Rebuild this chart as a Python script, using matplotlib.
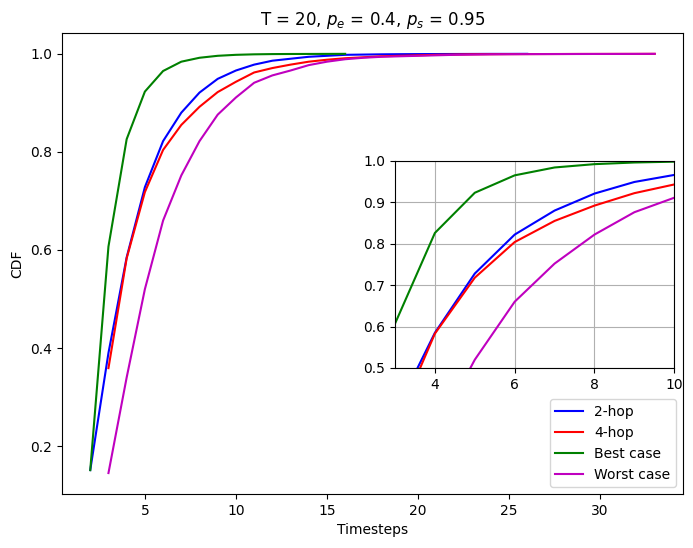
import numpy as np
import matplotlib
matplotlib.use('Agg')
import matplotlib.pyplot as plt

# CDF values
t_2hop = list(range(2, 27))
cdf_2hop = [0.151, 0.39, 0.585, 0.728, 0.822, 0.880, 0.921, 0.949, 0.966,
            0.978, 0.986, 0.990, 0.994, 0.996, 0.998, 0.9985, 0.999, 0.9993,
            0.9995, 0.9996, 0.9997, 0.9998, 0.9999, 0.9999, 1.0]

t_4hop = list(range(3, 34))
cdf_4hop = [0.359, 0.583, 0.718, 0.804, 0.855, 0.892, 0.922, 0.943, 0.962,
            0.971, 0.978, 0.984, 0.988, 0.991, 0.993, 0.995, 0.996, 0.997,
            0.998, 0.9985, 0.999, 0.9992, 0.9994, 0.9995, 0.9996, 0.9997,
            0.9998, 0.9998, 0.9999, 0.9999, 1.0]

t_best = list(range(2, 17))
cdf_best = [0.151, 0.607, 0.826, 0.923, 0.965, 0.984, 0.992, 0.996, 0.998,
            0.999, 0.9995, 0.9997, 0.9998, 0.9999, 1.0]

t_worst = list(range(3, 34))
cdf_worst = [0.145, 0.34, 0.52, 0.66, 0.752, 0.822, 0.876, 0.911, 0.941,
             0.956, 0.966, 0.977, 0.984, 0.989, 0.992, 0.994, 0.995, 0.996,
             0.997, 0.998, 0.9985, 0.999, 0.9992, 0.9994, 0.9995, 0.9996,
             0.9997, 0.9998, 0.9998, 0.9999, 1.0]

fig = plt.figure(figsize=(6.93, 5.48), dpi=100)
ax = fig.add_axes([0.0895, 0.0985, 0.896, 0.8415])

ax.plot(t_2hop, cdf_2hop, color='b', label='2-hop')
ax.plot(t_4hop, cdf_4hop, color='r', label='4-hop')
ax.plot(t_best, cdf_best, color='g', label='Best case')
ax.plot(t_worst, cdf_worst, color='m', label='Worst case')
ax.set_xlabel('Timesteps')
ax.set_ylabel('CDF')
ax.set_title('T = 20, $p_e$ = 0.4, $p_s$ = 0.95')
ax.legend(loc='lower right')

# zoomed inset
axin = fig.add_axes([0.570, 0.3285, 0.403, 0.378])
axin.plot(t_2hop, cdf_2hop, color='b')
axin.plot(t_4hop, cdf_4hop, color='r')
axin.plot(t_best, cdf_best, color='g')
axin.plot(t_worst, cdf_worst, color='m')
axin.set_xlim(3, 10)
axin.set_ylim(0.5, 1.0)
axin.set_xticks([4, 6, 8, 10])
axin.grid(True)

fig.savefig('out.png', dpi=100)
plt.close()
